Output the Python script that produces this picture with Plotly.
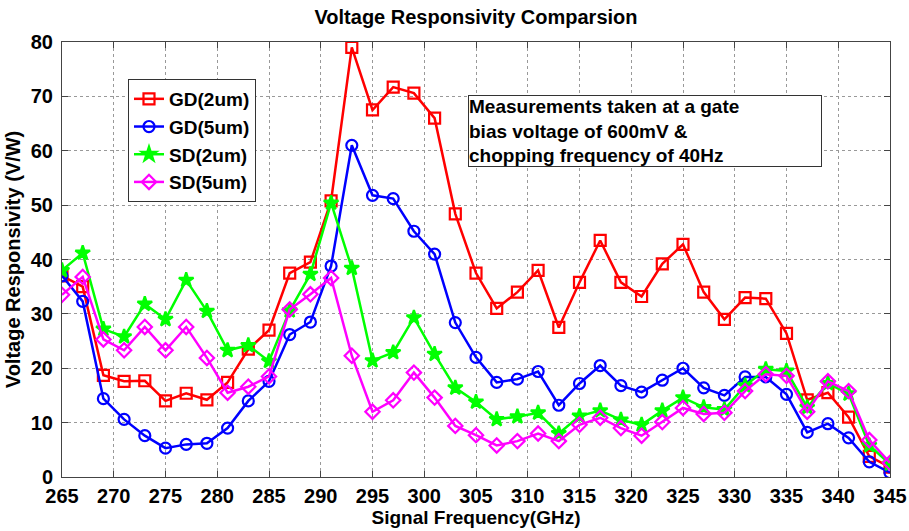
import plotly.graph_objects as go

freq = list(range(265, 347, 2))

gd_2um = [37, 35, 18.7, 17.6, 17.7, 14, 15.4, 14.2, 17.4, 23.5, 27, 37.5, 39.5, 50.8, 79, 67.5,
          71.7, 70.6, 66, 48.4, 37.5, 31, 34, 38, 27.5, 35.8, 43.5, 35.8, 33.2, 39.2, 42.8, 34,
          29, 33, 32.8, 26.4, 14.2, 15.5, 11, 3.8, 1.8]
gd_5um = [37, 32.3, 14.4, 10.6, 7.6, 5.3, 6, 6.2, 9, 14, 17.6, 26.2, 28.5, 38.8, 61, 51.8,
          51.2, 45.2, 41, 28.4, 22, 17.4, 18, 19.4, 13.2, 17.2, 20.5, 16.8, 15.6, 17.8, 20, 16.4,
          15, 18.4, 18.4, 15.2, 8.2, 9.8, 7.2, 2.8, 0.8]
sd_2um = [38, 41.2, 27.2, 25.8, 31.8, 29, 36.2, 30.5, 23.3, 24.2, 21.3, 30.6, 37.3, 50.4, 38.4, 21.4,
          22.9, 29.3, 22.6, 16.4, 13.8, 10.6, 11.1, 11.8, 8, 11.2, 12.2, 10.5, 9.6, 12.2, 14.6, 12.8,
          12.4, 16.8, 19.8, 19.5, 12.8, 17.2, 15.3, 5.8, 2.4]
sd_5um = [33.5, 36.8, 25.3, 23.3, 27.6, 23.3, 27.6, 21.9, 15.5, 16.6, 18.5, 30.8, 33.6, 36.6, 22.3, 12,
          14.1, 19.2, 14.6, 9.4, 7.7, 5.8, 6.6, 8, 6.6, 9.6, 10.9, 9, 7.6, 10.1, 12.7, 11.6,
          11.8, 15.8, 18.9, 18.6, 12, 17.6, 15.8, 6.8, 2.6]

series = [
    ("GD(2um)", gd_2um, "#ff0000", "square-open"),
    ("GD(5um)", gd_5um, "#0000ff", "circle-open"),
    ("SD(2um)", sd_2um, "#00ff00", "star"),
    ("SD(5um)", sd_5um, "#ff00ff", "diamond-open"),
]

FONT = "Liberation Sans, Arial, Helvetica, sans-serif"

fig = go.Figure()
for name, vals, col, sym in series:
    fig.add_trace(go.Scatter(
        x=freq, y=vals, name=name, mode="lines+markers",
        line=dict(color=col, width=2.5),
        marker=dict(symbol=sym, size=11, color=col, line=dict(color=col, width=2.2)),
    ))

fig.update_layout(
    width=909, height=531,
    margin=dict(l=62, r=19, t=42, b=54, autoexpand=False),
    paper_bgcolor="white", plot_bgcolor="white",
    font=dict(family=FONT, color="black", size=20, weight="bold"),
    title=dict(text="Voltage Responsivity Comparsion", x=476 / 909, xanchor="center",
               y=0.968, yanchor="middle", automargin=False,
               font=dict(size=20, weight="bold", family=FONT)),
    showlegend=True,
    legend=dict(x=0.0797, y=0.915, xanchor="left", yanchor="top",
                bgcolor="white", bordercolor="#333333", borderwidth=1,
                font=dict(size=19, weight="bold", family=FONT),
                itemwidth=30, tracegroupgap=0),
)

fig.update_xaxes(
    range=[265, 345], tick0=265, dtick=5, automargin=False,
    showline=True, linecolor="#444444", linewidth=1, mirror="allticks",
    ticks="inside", ticklen=6, tickcolor="#444444",
    showgrid=True, gridcolor="#999999", griddash="dot", gridwidth=1,
    zeroline=False, ticklabelstandoff=1,
    tickfont=dict(size=20, weight="bold", family=FONT),
    title=dict(text="Signal Frequency(GHz)", standoff=2, font=dict(size=19, weight="bold", family=FONT)),
)
fig.update_yaxes(
    range=[0, 80], tick0=0, dtick=10, automargin=False,
    showline=True, linecolor="#444444", linewidth=1, mirror="allticks",
    ticks="inside", ticklen=6, tickcolor="#444444",
    showgrid=True, gridcolor="#999999", griddash="dot", gridwidth=1,
    zeroline=False, ticklabelstandoff=4,
    tickfont=dict(size=20, weight="bold", family=FONT),
    title=dict(text="Voltage Responsivity (V/W)", standoff=4, font=dict(size=20, weight="bold", family=FONT)),
)

fig.add_annotation(
    xref="paper", yref="paper", x=0.490, y=0.878, xanchor="left", yanchor="top",
    text="Measurements taken at a gate<br>bias voltage of 600mV &<br>chopping frequency of 40Hz",
    showarrow=False, align="left", width=352,
    bordercolor="#333333", borderwidth=1, borderpad=0, bgcolor="white",
    font=dict(size=19, weight="bold", family=FONT),
)

fig.write_html("out.html")
